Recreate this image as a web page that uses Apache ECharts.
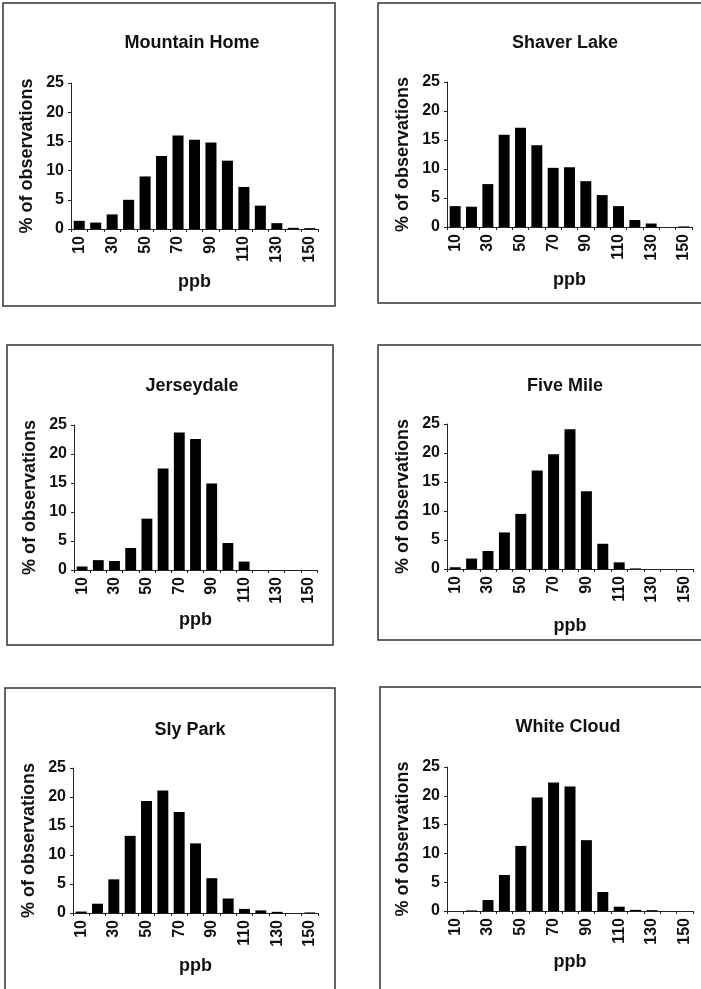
<!DOCTYPE html>
<html>
<head>
<meta charset="utf-8">
<script src="https://cdn.jsdelivr.net/npm/echarts@6/dist/echarts.min.js"></script>
<style>
html,body{margin:0;padding:0;background:#fff;}
#c{width:701px;height:989px;}
</style>
</head>
<body>
<div id="c"></div>
<script>
const categories = ['10','20','30','40','50','60','70','80','90','100','110','120','130','140','150'];
const yTicks = [0,5,10,15,20,25];
const siteNames = ['Mountain Home','Shaver Lake','Jerseydale','Five Mile','Sly Park','White Cloud'];
const mountainHome = [1.4,1.1,2.5,5.0,9.0,12.5,16.0,15.3,14.8,11.7,7.2,4.0,1.0,0.2,0.15];
const shaverLake   = [3.6,3.5,7.4,15.9,17.1,14.1,10.2,10.3,7.9,5.5,3.6,1.2,0.6,0,0.1];
const jerseydale   = [0.6,1.7,1.55,3.8,8.85,17.5,23.7,22.6,14.9,4.65,1.45,0,0,0,0];
const fiveMile     = [0.3,1.8,3.1,6.3,9.5,17.0,19.8,24.1,13.4,4.35,1.15,0.1,0,0,0];
const slyPark      = [0.25,1.6,5.8,13.3,19.3,21.1,17.4,12.0,6.0,2.5,0.7,0.45,0.2,0,0.1];
const whiteCloud   = [0,0.1,1.9,6.25,11.3,19.7,22.3,21.6,12.3,3.3,0.75,0.2,0.15,0,0];
const seriesData = [mountainHome, shaverLake, jerseydale, fiveMile, slyPark, whiteCloud];

// layout (pixels)
const grids = [
  {left:71, top:83, width:247, height:146},
  {left:447, top:82, width:245, height:145},
  {left:74, top:425, width:243, height:145},
  {left:447, top:424, width:246, height:145},
  {left:73, top:768, width:245, height:145},
  {left:447, top:767, width:246, height:144}
];
const titlePos = [[192,34],[565,34],[192,377],[565,377],[190,721],[568,718]];
const xNameGaps = [44,44,41,48,44,42];
const boxes = [
  [3,3,332,303],[378,3,340,300],[7,345,326,300],[378,345,340,295],[5,688,330,320],[380,687,340,320]
];

const FONT = 'Liberation Sans, Arial, sans-serif';
const chart = echarts.init(document.getElementById('c'), null, {renderer:'canvas'});

const option = {
  backgroundColor:'#fff',
  animation:false,
  title: siteNames.map((n,i)=>({
    text:n, left:titlePos[i][0], top:titlePos[i][1], textAlign:'center', padding:0,
    textStyle:{fontFamily:FONT, fontWeight:'bold', fontSize:18, color:'#111'}
  })),
  graphic: boxes.map(b=>({
    type:'rect', silent:true, z:-1,
    shape:{x:b[0], y:b[1], width:b[2], height:b[3]},
    style:{fill:'none', stroke:'#333', lineWidth:1.5}
  })),
  grid: grids.map(g=>Object.assign({containLabel:false}, g)),
  xAxis: grids.map((g,i)=>({
    type:'category', gridIndex:i, data:categories, boundaryGap:true,
    name:'ppb', nameLocation:'middle', nameGap:xNameGaps[i],
    nameTextStyle:{fontFamily:FONT, fontWeight:'bold', fontSize:18, color:'#111'},
    axisLine:{lineStyle:{color:'#222', width:1}},
    axisTick:{show:true, alignWithLabel:false, interval:0, length:3, lineStyle:{color:'#222'}},
    axisLabel:{interval:1, rotate:90, margin:7, fontFamily:FONT, fontWeight:'bold', fontSize:16, color:'#111'},
    splitLine:{show:false}
  })),
  yAxis: grids.map((g,i)=>({
    type:'value', gridIndex:i, min:0, max:25, interval:5,
    name:'% of observations', nameLocation:'middle', nameGap:35, nameRotate:90,
    nameTextStyle:{fontFamily:FONT, fontWeight:'bold', fontSize:18, color:'#111'},
    axisLine:{show:true, lineStyle:{color:'#222', width:1}},
    axisTick:{show:true, length:3, lineStyle:{color:'#222'}},
    axisLabel:{margin:7, fontFamily:FONT, fontWeight:'bold', fontSize:16, color:'#111'},
    splitLine:{show:false}
  })),
  series: seriesData.map((d,i)=>({
    type:'bar', xAxisIndex:i, yAxisIndex:i, data:d,
    barCategoryGap:'33%',
    itemStyle:{color:'#000'}
  }))
};
chart.setOption(option);
</script>
</body>
</html>
